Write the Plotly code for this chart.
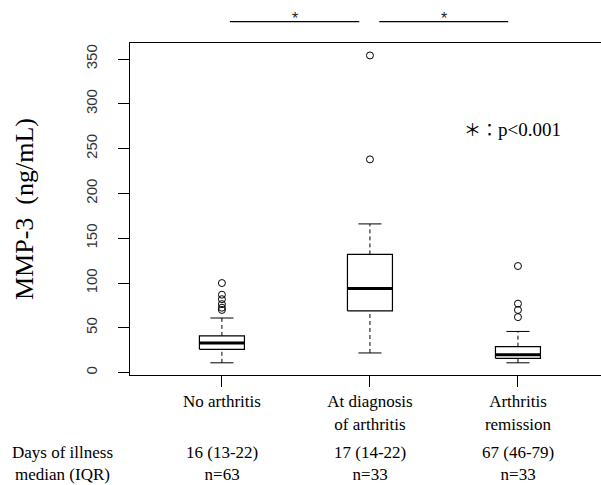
import plotly.graph_objects as go

# ---- data ----
categories = ["No arthritis", "At diagnosis<br>of arthritis", "Arthritis<br>remission"]
q1 = [26, 69, 16]
medians = [33, 94, 20]
q3 = [41, 132, 29]
lower_whisker = [11, 22, 11]
upper_whisker = [61, 166, 46]
outliers = [
    [70, 72.5, 76.5, 82, 87, 100],
    [238, 354],
    [62, 70, 77, 119],
]
days_text = ["16 (13-22)", "17 (14-22)", "67 (46-79)"]
n_text = ["n=63", "n=33", "n=33"]
y_ticks = [0, 50, 100, 150, 200, 250, 300, 350]

# ---- styling ----
SERIF = "Liberation Serif, Times New Roman, serif"
SANS = "Liberation Sans, Arial, sans-serif"
BOX_HALF = 0.152
CAP_HALF = 0.078

fig = go.Figure()

for i, cat in enumerate(categories):
    x0, x1 = i - BOX_HALF, i + BOX_HALF
    # dashed whiskers
    fig.add_trace(go.Scatter(
        x=[i, i, None, i, i],
        y=[lower_whisker[i], q1[i], None, q3[i], upper_whisker[i]],
        mode="lines", line=dict(color="black", width=1, dash="4px,3px"),
        hoverinfo="skip", showlegend=False))
    # caps
    fig.add_trace(go.Scatter(
        x=[i - CAP_HALF, i + CAP_HALF, None, i - CAP_HALF, i + CAP_HALF],
        y=[lower_whisker[i], lower_whisker[i], None, upper_whisker[i], upper_whisker[i]],
        mode="lines", line=dict(color="black", width=1),
        hoverinfo="skip", showlegend=False))
    # box
    fig.add_trace(go.Scatter(
        x=[x0, x1, x1, x0, x0],
        y=[q1[i], q1[i], q3[i], q3[i], q1[i]],
        mode="lines", fill="toself", fillcolor="white",
        line=dict(color="black", width=1.2),
        hoverinfo="skip", showlegend=False))
    # median
    fig.add_trace(go.Scatter(
        x=[x0, x1], y=[medians[i], medians[i]],
        mode="lines", line=dict(color="black", width=3),
        hoverinfo="skip", showlegend=False))
    # outliers
    fig.add_trace(go.Scatter(
        x=[i] * len(outliers[i]), y=outliers[i],
        mode="markers",
        marker=dict(symbol="circle-open", size=7, color="black", line=dict(width=1)),
        hoverinfo="skip", showlegend=False))

# significance bars
sig_pairs = [(0.054, 0.928), (1.063, 1.934)]
for a, b in sig_pairs:
    fig.add_shape(type="line", xref="x", yref="paper", x0=a, x1=b,
                  y0=1.0644, y1=1.0644, line=dict(color="black", width=1.2))
    fig.add_annotation(x=(a + b) / 2, y=1.073, xref="x", yref="paper",
                       text="*", showarrow=False, font=dict(family=SANS, size=16, color="#222"),
                       xanchor="center", yanchor="middle")

fig.add_annotation(x=1.625, y=273, xref="x", yref="y",
                   text="<span style=\"font-family:'Noto Sans CJK JP';font-size:17px;color:black\">＊：</span>p<0.001",
                   showarrow=False, xanchor="left", yanchor="middle",
                   font=dict(family=SERIF, size=19, color="black"))

# y axis title
fig.add_annotation(x=-0.225, y=0.5, xref="paper", yref="paper", text="MMP-3  (ng/mL)",
                   textangle=-90, showarrow=False, xanchor="center", yanchor="middle",
                   font=dict(family=SERIF, size=26, color="black"))

# bottom table
fig.add_annotation(x=-0.1423, y=-0.268, xref="paper", yref="paper",
                   text="Days of illness<br>median (IQR)", showarrow=False,
                   xanchor="center", yanchor="middle",
                   font=dict(family=SERIF, size=17, color="black"))
for i in range(len(categories)):
    fig.add_annotation(x=i, y=-0.268, xref="x", yref="paper",
                       text=days_text[i] + "<br>" + n_text[i], showarrow=False,
                       xanchor="center", yanchor="middle",
                       font=dict(family=SERIF, size=17, color="black"))

fig.update_layout(
    width=601, height=485, autosize=False,
    margin=dict(l=130, r=0, t=43, b=110),
    plot_bgcolor="white", paper_bgcolor="white",
    showlegend=False,
    xaxis=dict(range=[-0.621, 2.561], tickvals=[0, 1, 2], ticktext=categories,
               showgrid=False, zeroline=False, showline=True, mirror=True,
               linecolor="black", linewidth=1, ticks="outside", ticklen=11,
               tickcolor="black", tickfont=dict(family=SERIF, size=17, color="black")),
    yaxis=dict(range=[-2.6, 367.9], tickvals=y_ticks,
               showgrid=False, zeroline=False, showline=True, mirror=False,
               linecolor="black", linewidth=1, ticks="outside", ticklen=11,
               tickcolor="black", tickangle=-90, ticklabelstandoff=15,
               tickfont=dict(family=SANS, size=15, color="#333")),
)

fig.write_html("out.html", config={"displayModeBar": False},
               post_script="document.body.style.margin='0';document.body.style.overflow='hidden';")
